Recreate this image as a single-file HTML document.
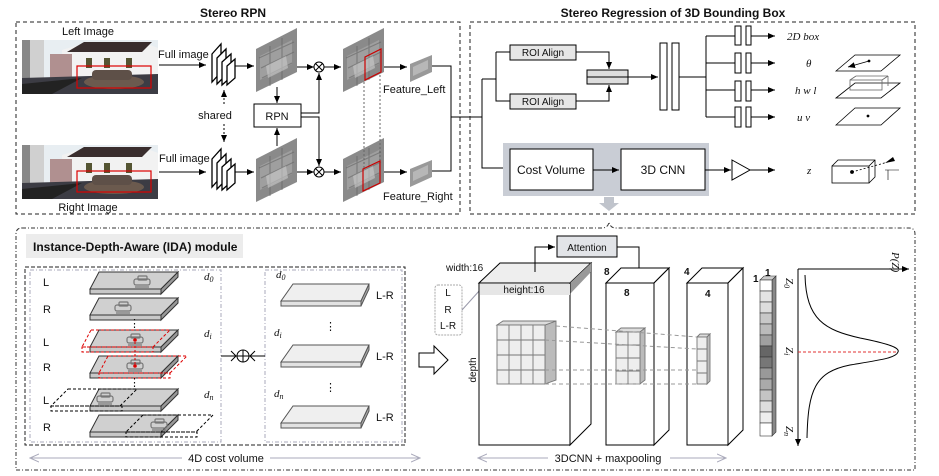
<!DOCTYPE html>
<html><head><meta charset="utf-8"><style>
html,body{margin:0;padding:0;background:#fff}
svg{display:block}
text{font-family:"Liberation Sans",sans-serif;fill:#111}
.t{font-size:11px}
.m{font-family:"Liberation Serif",serif;font-style:italic;font-size:11px}
.b{font-weight:bold}
</style></head><body>
<svg width="939" height="476" viewBox="0 0 939 476" xmlns="http://www.w3.org/2000/svg">
<defs>
<marker id="ar" markerWidth="8" markerHeight="8" refX="7" refY="4" orient="auto" markerUnits="userSpaceOnUse"><path d="M0,1 L7,4 L0,7z" fill="#000"/></marker>
<marker id="ag" markerWidth="10" markerHeight="10" refX="9" refY="5" orient="auto" markerUnits="userSpaceOnUse"><path d="M0,1 L9,5 L0,9" fill="none" stroke="#aab"/></marker>
<g id="photo">
<rect x="0" y="0" width="136" height="54" fill="#e8eef2"/>
<rect x="0" y="0" width="22" height="40" fill="#d0d0d0"/>
<polygon points="40,10 60,4 120,2 136,8 136,36 40,36" fill="#f2f2f2"/>
<polygon points="45,12 62,2 130,2 120,12" fill="#3a2e2e"/>
<rect x="28" y="14" width="22" height="24" fill="#b09090"/>
<rect x="0" y="0" width="8" height="40" fill="#888"/>
<rect x="64" y="18" width="6" height="10" fill="#553"/><rect x="82" y="18" width="6" height="10" fill="#553"/><rect x="104" y="18" width="6" height="10" fill="#553"/>
<polygon points="0,38 136,34 136,54 0,54" fill="#3c3c44"/>
<polygon points="0,44 60,38 30,54 0,54" fill="#222"/>
<ellipse cx="92" cy="42" rx="30" ry="7" fill="#6b5a4e"/>
<rect x="70" y="30" width="40" height="10" rx="4" fill="#5e5048"/>
</g>
<g id="fmap">
<polygon points="0,21 41,0 41,44 0,64" fill="#8a8a8a"/>
<polygon points="4,28 36,12 36,36 4,52" fill="#a8a8a8" opacity=".7"/>
<path d="M3,30 L38,14 M5,40 L38,24 M6,50 L36,35 M14,18 L14,58 M26,10 L26,52" stroke="#666" stroke-width="1.2" opacity=".6"/>
<polygon points="10,38 30,28 32,40 12,50" fill="#ccc" opacity=".6"/>
</g>
<g id="small">
<polygon points="0,9 22,0 22,17 0,27" fill="#999"/>
<polygon points="3,12 18,5 18,14 3,21" fill="#ccc" opacity=".6"/>
</g>
<g id="stack" fill="#fff" stroke="#000" stroke-width="1.3">
<polygon points="0,12 9,2 9,30 0,40"/>
<polygon points="5,16 14,7 14,33 5,42"/>
<polygon points="10,20 19,12 19,35 10,43"/>
<polygon points="15,24 23,17 23,36 15,43"/>
</g>
<g id="plate">
<polygon points="9,0 88,0 71,17 0,17" fill="#d0d0d0" stroke="#333"/>
<polygon points="0,17 71,17 71,22 0,22" fill="#c8c8c8" stroke="#333"/>
<polygon points="71,17 88,0 88,5 71,22" fill="#999" stroke="#333"/>
</g>
<g id="car" fill="none" stroke="#777" stroke-width="1.2">
<rect x="0" y="3" width="16" height="6" rx="2"/><rect x="4" y="0" width="9" height="4" rx="1"/><line x1="1" y1="11" x2="15" y2="11"/>
</g>
<g id="lr">
<polygon points="12,0 88,0 80,17 0,17" fill="#efefef" stroke="#555"/>
<polygon points="0,17 80,17 80,22 0,22" fill="#e2e2e2" stroke="#555"/>
<polygon points="80,17 88,0 88,5 80,22" fill="#aaa" stroke="#555"/>
</g>
</defs>

<text x="233" y="17" text-anchor="middle" class="b" font-size="12">Stereo RPN</text>
<rect x="16" y="22" width="444" height="192" fill="none" stroke="#222" stroke-dasharray="4,3"/>
<text x="88" y="35" text-anchor="middle" class="t">Left Image</text>
<use href="#photo" x="22" y="40"/>
<rect x="77" y="66" width="74" height="22" fill="none" stroke="#d00" stroke-width="1.2"/>
<use href="#photo" x="22" y="145"/>
<rect x="77" y="171" width="74" height="21" fill="none" stroke="#d00" stroke-width="1.2"/>
<text x="88" y="211" text-anchor="middle" class="t">Right Image</text>
<text x="158" y="58" class="t">Full image</text>
<text x="159" y="162" class="t">Full image</text>
<line x1="159" y1="65" x2="206" y2="65" stroke="#000" marker-end="url(#ar)"/>
<line x1="159" y1="172" x2="206" y2="172" stroke="#000" marker-end="url(#ar)"/>
<use href="#stack" x="212" y="42"/>
<use href="#stack" x="212" y="147"/>
<line x1="235" y1="66" x2="254" y2="66" stroke="#000" marker-end="url(#ar)"/>
<line x1="235" y1="172" x2="254" y2="172" stroke="#000" marker-end="url(#ar)"/>
<text x="215" y="119" text-anchor="middle" class="t">shared</text>
<line x1="224" y1="104" x2="224" y2="90" stroke="#000" stroke-dasharray="2,2" marker-end="url(#ar)"/>
<line x1="224" y1="124" x2="224" y2="142" stroke="#000" stroke-dasharray="2,2" marker-end="url(#ar)"/>
<use href="#fmap" x="256" y="28"/>
<use href="#fmap" x="256" y="138"/>
<rect x="254" y="104" width="47" height="23" fill="#fff" stroke="#000"/>
<text x="277" y="120" text-anchor="middle" class="t">RPN</text>
<line x1="277" y1="87" x2="277" y2="103" stroke="#000" marker-end="url(#ar)"/>
<line x1="277" y1="146" x2="277" y2="128" stroke="#000" marker-end="url(#ar)"/>
<line x1="297" y1="67" x2="314" y2="67" stroke="#000" marker-end="url(#ar)"/>
<line x1="297" y1="172" x2="314" y2="172" stroke="#000" marker-end="url(#ar)"/>
<path d="M301,113 H319 V73" fill="none" stroke="#000" marker-end="url(#ar)"/>
<path d="M301,117 H319 V166" fill="none" stroke="#000" marker-end="url(#ar)"/>
<circle cx="319" cy="67" r="5" fill="#fff" stroke="#000"/><path d="M315.5,63.5l7,7m0,-7l-7,7" stroke="#000"/>
<circle cx="319" cy="172" r="5" fill="#fff" stroke="#000"/><path d="M315.5,168.5l7,7m0,-7l-7,7" stroke="#000"/>
<line x1="324" y1="67" x2="341" y2="67" stroke="#000" marker-end="url(#ar)"/>
<line x1="324" y1="172" x2="341" y2="172" stroke="#000" marker-end="url(#ar)"/>
<use href="#fmap" x="343" y="28"/>
<use href="#fmap" x="343" y="138"/>
<polygon points="365,57 381,49 381,72 365,80" fill="none" stroke="#c00" stroke-width="1.2"/>
<polygon points="363,169 380,161 380,183 363,191" fill="none" stroke="#c00" stroke-width="1.2"/>
<line x1="364" y1="82" x2="364" y2="168" stroke="#666" stroke-dasharray="2,2"/>
<line x1="380" y1="75" x2="380" y2="160" stroke="#666" stroke-dasharray="2,2"/>
<line x1="384" y1="67" x2="407" y2="67" stroke="#000" marker-end="url(#ar)"/>
<line x1="384" y1="172" x2="407" y2="172" stroke="#000" marker-end="url(#ar)"/>
<use href="#small" x="410" y="55"/>
<use href="#small" x="410" y="160"/>
<text x="383" y="93" class="t">Feature_Left</text>
<text x="383" y="200" class="t">Feature_Right</text>
<path d="M432,66 H451 V171 H432 M451,117 H482" fill="none" stroke="#000"/>

<text x="673" y="17" text-anchor="middle" class="b" font-size="12">Stereo Regression of 3D Bounding Box</text>
<rect x="470" y="22" width="445" height="192" fill="none" stroke="#222" stroke-dasharray="4,3"/>
<path d="M482,79 V168 H510 M482,79 H496 M496,52 V101 H510 M496,52 H510" fill="none" stroke="#000"/>
<rect x="510" y="45" width="66" height="15" fill="#e6e6e6" stroke="#000"/>
<text x="543" y="56" text-anchor="middle" font-size="10">ROI Align</text>
<rect x="510" y="94" width="66" height="15" fill="#e6e6e6" stroke="#000"/>
<text x="543" y="105" text-anchor="middle" font-size="10">ROI Align</text>
<rect x="587" y="70" width="41" height="14" fill="#ddd" stroke="#000"/>
<line x1="587" y1="77" x2="628" y2="77" stroke="#000"/>
<path d="M576,52 H609 V69" fill="none" stroke="#000" marker-end="url(#ar)"/>
<path d="M576,101 H609 V85" fill="none" stroke="#000" marker-end="url(#ar)"/>
<line x1="628" y1="77" x2="658" y2="77" stroke="#000" marker-end="url(#ar)"/>
<rect x="660" y="43" width="7" height="67" fill="#fff" stroke="#000"/>
<rect x="672" y="43" width="7" height="67" fill="#fff" stroke="#000"/>
<path d="M679,77 H706 M706,36 V117 M706,36 H735 M706,63 H735 M706,90 H735 M706,117 H735" fill="none" stroke="#000"/>
<g fill="#fff" stroke="#000">
<rect x="735" y="26" width="6" height="19"/><rect x="746" y="26" width="5" height="19"/>
<rect x="735" y="53" width="6" height="20"/><rect x="746" y="53" width="5" height="20"/>
<rect x="735" y="81" width="6" height="20"/><rect x="746" y="81" width="5" height="20"/>
<rect x="735" y="107" width="6" height="20"/><rect x="746" y="107" width="5" height="20"/>
</g>
<g stroke="#000" marker-end="url(#ar)">
<line x1="751" y1="36" x2="775" y2="36"/><line x1="751" y1="63" x2="775" y2="63"/>
<line x1="751" y1="90" x2="775" y2="90"/><line x1="751" y1="117" x2="775" y2="117"/>
<line x1="750" y1="170" x2="775" y2="170"/>
</g>
<text x="787" y="40" class="m" font-size="12">2D box</text>
<text x="806" y="67" class="m">θ</text>
<text x="795" y="94" class="m">h w l</text>
<text x="797" y="121" class="m">u v</text>
<text x="807" y="174" class="m">z</text>
<g fill="none" stroke="#000" stroke-width=".8">
<polygon points="836,71 855,55 900,55 881,71"/><line x1="869" y1="61" x2="848" y2="67" marker-end="url(#ar)"/><circle cx="869" cy="61" r="1" fill="#000"/>
<polygon points="836,98 855,83 900,83 881,98"/><rect x="850" y="80" width="32" height="10" stroke="#666"/><line x1="850" y1="80" x2="856" y2="76" stroke="#666"/><line x1="882" y1="80" x2="888" y2="76" stroke="#666"/><line x1="856" y1="76" x2="888" y2="76" stroke="#666"/><line x1="888" y1="76" x2="888" y2="86" stroke="#666"/>
<polygon points="836,125 855,108 900,108 881,125"/><circle cx="868" cy="116" r="1" fill="#000"/>
<rect x="832" y="166" width="37" height="17"/><path d="M832,166 l6,-6 h37 v17 l-6,6 M869,166 l6,-6" /><circle cx="852" cy="172" r="1.5" fill="#000"/><line x1="852" y1="172" x2="888" y2="162" stroke-dasharray="2,2"/>
</g>
<path d="M885,163 l8,-6 l2,4z" fill="#000"/>
<path d="M885,170 h14 M888,170 v10" stroke="#000" stroke-width=".6"/>
<rect x="503" y="143" width="206" height="53" fill="#c9cdd5"/>
<rect x="510" y="149" width="83" height="41" fill="#fff" stroke="#000"/>
<text x="551" y="174" text-anchor="middle" font-size="12">Cost Volume</text>
<rect x="621" y="149" width="84" height="41" fill="#fff" stroke="#000"/>
<text x="663" y="174" text-anchor="middle" font-size="12">3D CNN</text>
<line x1="593" y1="170" x2="619" y2="170" stroke="#000" marker-end="url(#ar)"/>
<line x1="705" y1="170" x2="731" y2="170" stroke="#000" marker-end="url(#ar)"/>
<polygon points="732,160 750,170 732,180" fill="#fff" stroke="#000"/>
<polygon points="604,197 614,197 614,203 619,203 609,211 599,203 604,203" fill="#c0c4cc"/>

<path d="M22,228 H602 Q608,228 609,222 Q610,228 616,228 H909 Q915,228 915,234 V470 H16 V234 Q16,228 22,228" fill="none" stroke="#333" stroke-dasharray="4,2,1,2"/>
<rect x="26" y="234" width="217" height="24" fill="#ececec"/>
<text x="33" y="251" class="b" font-size="12">Instance-Depth-Aware (IDA) module</text>
<rect x="25" y="267" width="380" height="178" fill="none" stroke="#222" stroke-dasharray="4,2"/>
<rect x="30" y="270" width="191" height="172" fill="none" stroke="#aab" stroke-dasharray="4,2,1,2"/>
<rect x="265" y="270" width="137" height="172" fill="none" stroke="#aab" stroke-dasharray="4,2,1,2"/>
<g class="t" font-size="11">
<text x="43" y="286">L</text><text x="43" y="313">R</text><text x="43" y="346">L</text><text x="43" y="371">R</text><text x="43" y="404">L</text><text x="43" y="431">R</text>
</g>
<use href="#plate" x="90" y="272"/><use href="#car" x="134" y="276"/>
<use href="#plate" x="90" y="298"/><use href="#car" x="115" y="302"/>
<use href="#plate" x="90" y="330"/><use href="#car" x="127" y="334"/>
<use href="#plate" x="90" y="356"/><use href="#car" x="127" y="360"/>
<use href="#plate" x="90" y="389"/><use href="#car" x="97" y="393"/>
<use href="#plate" x="90" y="415"/><use href="#car" x="151" y="419"/>
<g fill="none" stroke="#d00" stroke-dasharray="3,2">
<polygon points="91,330 170,330 153,347 82,347"/><rect x="82" y="347" width="71" height="5"/>
<polygon points="108,356 187,356 170,373 99,373"/><rect x="99" y="373" width="71" height="5"/>
</g>
<circle cx="135" cy="340" r="1.8" fill="#d00"/><circle cx="135" cy="366" r="1.8" fill="#d00"/>
<line x1="135" y1="342" x2="135" y2="364" stroke="#d00" stroke-dasharray="2,2"/>
<g fill="none" stroke="#000" stroke-dasharray="3,2">
<polygon points="68,389 137,389 120,406 51,406"/><rect x="51" y="406" width="71" height="5"/>
<polygon points="143,415 213,415 196,432 126,432"/><rect x="126" y="432" width="71" height="5"/>
</g>
<text x="129" y="327" class="t">⋮</text><text x="129" y="386" class="t">⋮</text>
<text x="204" y="280" class="m">d<tspan font-size="8" dy="2">0</tspan></text>
<text x="204" y="337" class="m">d<tspan font-size="8" dy="2">i</tspan></text>
<text x="204" y="398" class="m">d<tspan font-size="8" dy="2">n</tspan></text>
<text x="276" y="278" class="m">d<tspan font-size="8" dy="2">0</tspan></text>
<text x="274" y="336" class="m">d<tspan font-size="8" dy="2">i</tspan></text>
<text x="274" y="397" class="m">d<tspan font-size="8" dy="2">n</tspan></text>
<use href="#lr" x="281" y="284"/><use href="#lr" x="281" y="345"/><use href="#lr" x="281" y="406"/>
<text x="376" y="299" class="t">L-R</text><text x="376" y="360" class="t">L-R</text><text x="376" y="421" class="t">L-R</text>
<text x="325" y="330" class="t">⋮</text><text x="325" y="391" class="t">⋮</text>
<path d="M221,356 H237 M265,356 H249" stroke="#000"/>
<path d="M231,351 l5,5 l-5,5 M255,351 l-5,5 l5,5" fill="none" stroke="#000"/>
<circle cx="243" cy="356" r="6" fill="#fff" stroke="#000"/><path d="M237,356h12M243,350v12" stroke="#000"/>
<line x1="30" y1="458" x2="182" y2="458" stroke="#aab" marker-end="url(#ag)" transform="rotate(180 106 458)"/>
<line x1="270" y1="458" x2="420" y2="458" stroke="#aab" marker-end="url(#ag)"/>
<text x="226" y="462" text-anchor="middle" class="t">4D cost volume</text>
<polygon points="419,353 434,353 434,346 448,360 434,374 434,367 419,367" fill="#fff" stroke="#000"/>
<rect x="435" y="285" width="27" height="50" rx="3" fill="#fff" stroke="#aaa" stroke-dasharray="2,1"/>
<text x="448" y="296" text-anchor="middle" font-size="10">L</text>
<text x="448" y="313" text-anchor="middle" font-size="10">R</text>
<text x="448" y="329" text-anchor="middle" font-size="10">L-R</text>
<line x1="462" y1="310" x2="480" y2="290" stroke="#99a"/>
<polygon points="479,283 500,263 591,263 570,283" fill="#eee" stroke="#000"/>
<polygon points="570,283 591,263 591,424 570,445" fill="#fff" stroke="#000"/>
<polygon points="570,283 591,263 591,272 570,294" fill="#999"/>
<rect x="479" y="283" width="91" height="162" fill="#fff" stroke="#000"/>
<rect x="480" y="284" width="90" height="11" fill="#e6e6e6"/>
<text x="524" y="293" text-anchor="middle" font-size="10">height:16</text>
<text x="446" y="271" font-size="10">width:16</text>
<text x="476" y="370" font-size="10" transform="rotate(-90 476 370)" text-anchor="middle">depth</text>
<rect x="557" y="236" width="60" height="21" fill="#e2e4e8" stroke="#000"/>
<text x="587" y="251" text-anchor="middle" font-size="10">Attention</text>
<path d="M535,272 V247 H555" fill="none" stroke="#000" marker-end="url(#ar)"/>
<path d="M617,247 H639 V275" fill="none" stroke="#000" marker-end="url(#ar)"/>
<polygon points="606,283 621,268 669,268 654,283" fill="#fff" stroke="#000"/>
<polygon points="654,283 669,268 669,430 654,445" fill="#fff" stroke="#000"/>
<rect x="606" y="283" width="48" height="162" fill="#fff" stroke="#000"/>
<text x="604" y="275" font-size="10" class="b">8</text><text x="624" y="296" font-size="10" class="b">8</text>
<polygon points="687,283 702,268 743,268 728,283" fill="#fff" stroke="#000"/>
<polygon points="728,283 743,268 743,430 728,445" fill="#fff" stroke="#000"/>
<rect x="687" y="283" width="41" height="162" fill="#fff" stroke="#000"/>
<text x="684" y="275" font-size="10" class="b">4</text><text x="705" y="297" font-size="10" class="b">4</text>
<g stroke="#777" stroke-width=".9">
<polygon points="545,325 556,321 556,380 545,384" fill="#bbb"/>
<polygon points="497,325 503,321 556,321 545,325" fill="#ddd"/>
<rect x="497" y="325" width="48" height="59" fill="#eee"/>
<path d="M509,325V384M521,325V384M533,325V384M497,340H545M497,355H545M497,370H545" fill="none"/>
<polygon points="616,332 621,328 645,328 640,332" fill="#ddd"/>
<polygon points="640,332 645,328 645,380 640,384" fill="#bbb"/>
<rect x="616" y="332" width="24" height="52" fill="#eee"/>
<path d="M628,332V384M616,345H640M616,358H640M616,371H640" fill="none"/>
<polygon points="697,337 700,334 710,334 707,337" fill="#ddd"/>
<polygon points="707,337 710,334 710,381 707,384" fill="#bbb"/>
<rect x="697" y="337" width="10" height="47" fill="#eee"/>
<path d="M697,349H707M697,361H707M697,373H707" fill="none"/>
</g>
<g stroke="#999" stroke-dasharray="4,3">
<line x1="556" y1="326" x2="697" y2="337"/><line x1="545" y1="340" x2="697" y2="349"/>
<line x1="545" y1="370" x2="697" y2="370"/><line x1="545" y1="384" x2="697" y2="384"/>
</g>
<polygon points="772,280 776,276 776,432 772,436" fill="#888" stroke="#333" stroke-width=".6"/>
<polygon points="760,280 764,276 776,276 772,280" fill="#ccc" stroke="#333" stroke-width=".6"/>
<g stroke="#333" stroke-width=".6">
<rect x="760" y="280" width="12" height="11" fill="#fff"/><rect x="760" y="291" width="12" height="11" fill="#e4e4e4"/>
<rect x="760" y="302" width="12" height="11" fill="#ddd"/><rect x="760" y="313" width="12" height="11" fill="#c8c8c8"/>
<rect x="760" y="324" width="12" height="11" fill="#bbb"/><rect x="760" y="335" width="12" height="11" fill="#a0a0a0"/>
<rect x="760" y="346" width="12" height="11" fill="#666"/><rect x="760" y="357" width="12" height="11" fill="#777"/>
<rect x="760" y="368" width="12" height="11" fill="#999"/><rect x="760" y="379" width="12" height="11" fill="#aaa"/>
<rect x="760" y="390" width="12" height="11" fill="#c4c4c4"/><rect x="760" y="401" width="12" height="11" fill="#ddd"/>
<rect x="760" y="412" width="12" height="11" fill="#eee"/><rect x="760" y="423" width="12" height="13" fill="#fff"/>
</g>
<text x="753" y="282" font-size="10" class="b">1</text><text x="765" y="276" font-size="10" class="b">1</text>
<line x1="798" y1="269" x2="909" y2="269" stroke="#000" marker-end="url(#ar)"/>
<line x1="798" y1="269" x2="798" y2="446" stroke="#000" marker-end="url(#ar)"/>
<text x="892" y="252" class="m" transform="rotate(90 892 252)">P(Z)</text>
<text x="786" y="278" class="m" transform="rotate(90 786 278)">Z<tspan font-size="8" dy="2">0</tspan></text>
<text x="786" y="347" class="m" transform="rotate(90 786 347)">Z<tspan font-size="8" dy="2">i</tspan></text>
<text x="786" y="426" class="m" transform="rotate(90 786 426)">Z<tspan font-size="8" dy="2">n</tspan></text>
<path d="M805,275 C806,320 825,330 860,338 C890,344 900,348 898,352 C896,358 880,360 850,365 C815,372 808,390 807,438" fill="none" stroke="#000"/>
<line x1="798" y1="352" x2="896" y2="352" stroke="#e03030" stroke-dasharray="3,2"/>
<line x1="478" y1="458" x2="548" y2="458" stroke="#aab" marker-end="url(#ag)" transform="rotate(180 513 458)"/>
<line x1="670" y1="458" x2="726" y2="458" stroke="#aab" marker-end="url(#ag)"/>
<text x="608" y="462" text-anchor="middle" class="t">3DCNN + maxpooling</text>
</svg>
</body></html>
